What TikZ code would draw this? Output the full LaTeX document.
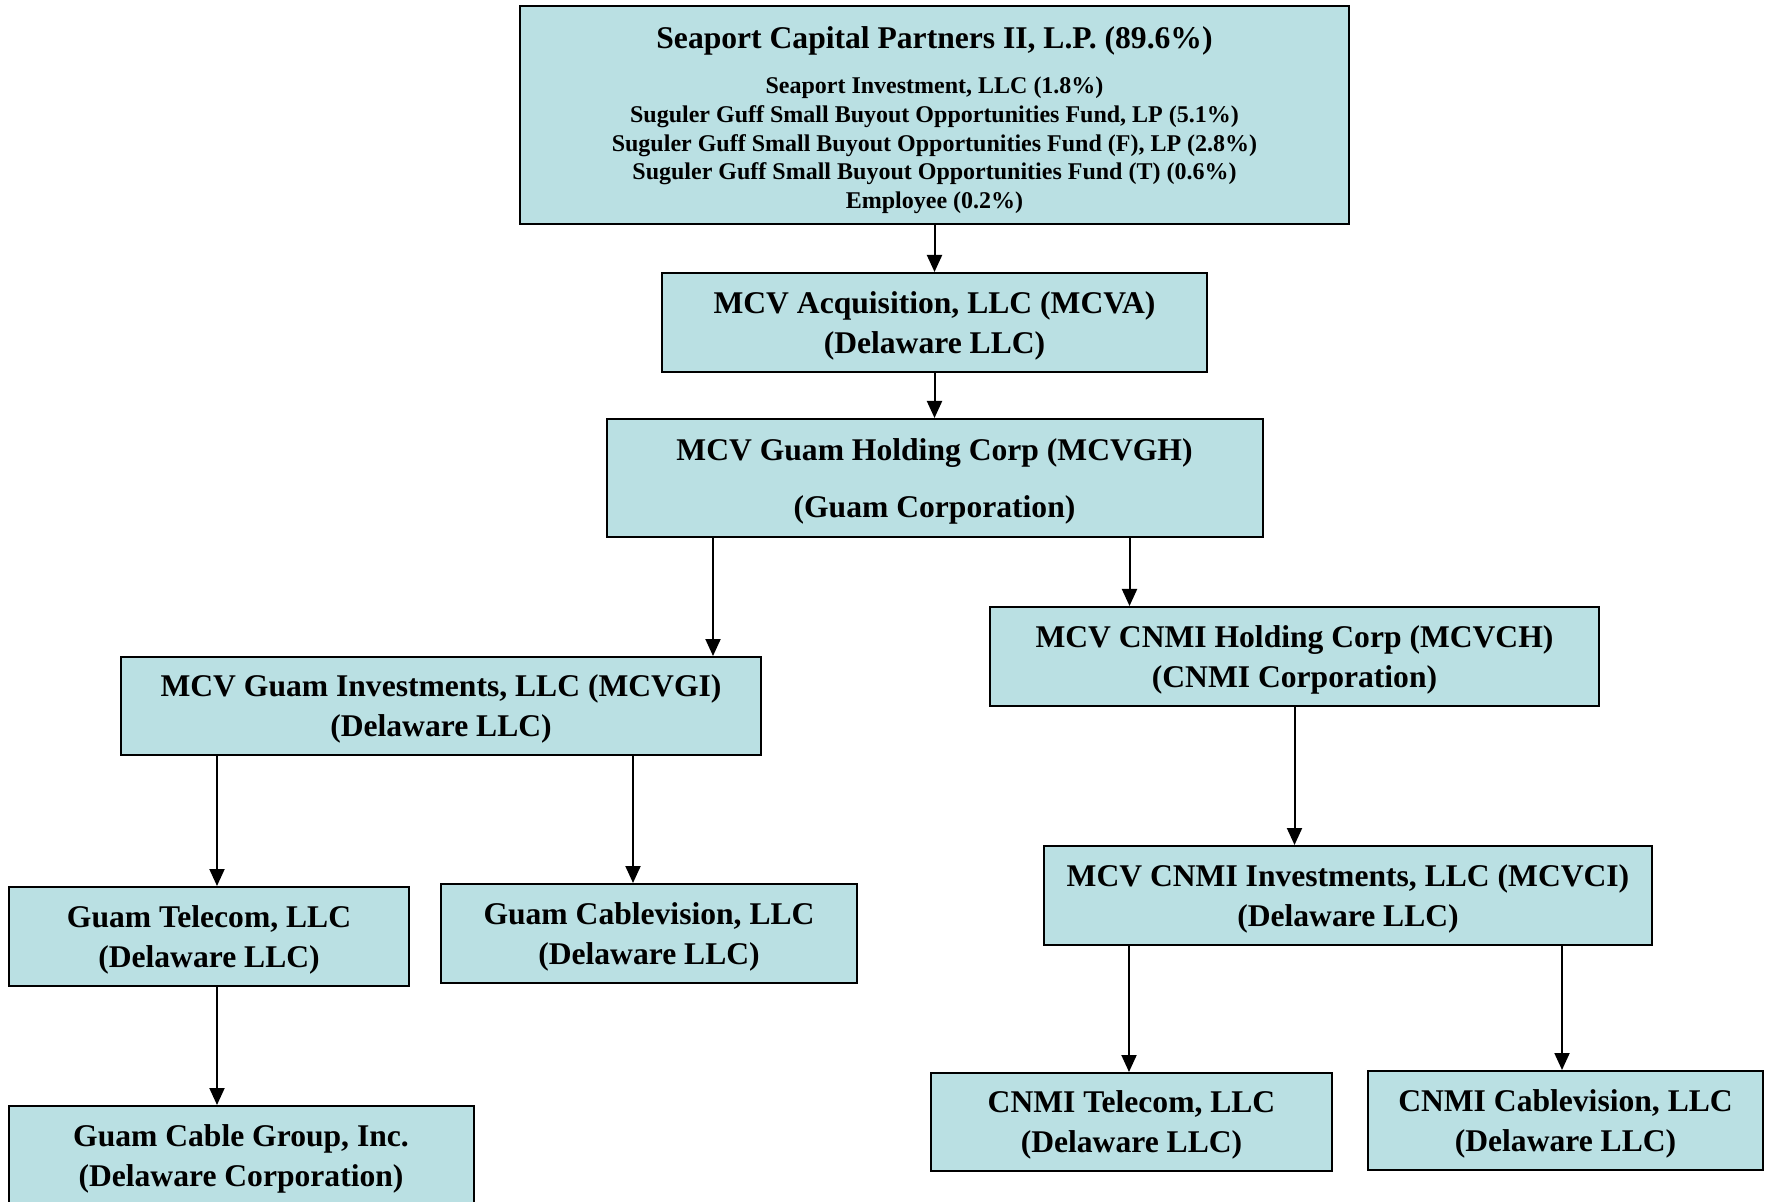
\documentclass[tikz,border=0pt]{standalone}
\usepackage{fontspec}
\setmainfont{Liberation Serif}
\usetikzlibrary{arrows.meta}
\definecolor{boxfill}{RGB}{186,224,227}
\newcommand{\dnstrut}{\rule{0pt}{14.2pt}}
\tikzset{
  entity/.style={draw=black, line width=1pt, fill=boxfill, inner sep=0pt, align=center,
    font=\bfseries\fontsize{15.8}{20}\selectfont},
  toptitle/.style={inner sep=0pt, font=\bfseries\fontsize{15.8}{20}\selectfont},
  topsub/.style={inner sep=0pt, align=center, font=\bfseries\fontsize{12}{14.4}\selectfont},
  arr/.style={line width=1pt, -{Triangle[length=8.5pt,width=7.5pt]}}
}
\begin{document}
\begin{tikzpicture}[x=0.5pt,y=-0.5pt]
\clip (0,0) rectangle (1765,1202);
\fill[white] (0,0) rectangle (1765,1202);

% boxes
\node[entity, minimum width=414.5pt, minimum height=109pt] (top) at (934.5,115) {};
\node[toptitle] (toptext) at (934.5,40.5) {Seaport Capital Partners II, L.P. (89.6\%)};
\node[topsub] (topsubtext) at (934.5,145.3) {Seaport Investment, LLC (1.8\%)\\
Suguler Guff Small Buyout Opportunities Fund, LP (5.1\%)\\
Suguler Guff Small Buyout Opportunities Fund (F), LP (2.8\%)\\
Suguler Guff Small Buyout Opportunities Fund (T) (0.6\%)\\
Employee (0.2\%)};

\node[entity, minimum width=272.5pt, minimum height=49.5pt] (mcva) at (934.5,322.5)
  {\dnstrut MCV Acquisition, LLC (MCVA)\\(Delaware LLC)};
\node[entity, minimum width=328pt, minimum height=59pt] (gh) at (934.5,478)
  {\dnstrut MCV Guam Holding Corp (MCVGH)\\[8.5pt](Guam Corporation)};
\node[entity, minimum width=320pt, minimum height=49pt] (gi) at (441,706)
  {\dnstrut MCV Guam Investments, LLC (MCVGI)\\(Delaware LLC)};
\node[entity, minimum width=200pt, minimum height=49.5pt] (gt) at (209,936.5)
  {\dnstrut Guam Telecom, LLC\\(Delaware LLC)};
\node[entity, minimum width=208pt, minimum height=49.5pt] (gcv) at (649,933.5)
  {\dnstrut Guam Cablevision, LLC\\(Delaware LLC)};
\node[entity, minimum width=232.5pt, minimum height=49.5pt] (gcg) at (241,1155.5)
  {\dnstrut Guam Cable Group, Inc.\\(Delaware Corporation)};
\node[entity, minimum width=304.5pt, minimum height=49.5pt] (ch) at (1294.5,656.5)
  {\dnstrut MCV CNMI Holding Corp (MCVCH)\\(CNMI Corporation)};
\node[entity, minimum width=304pt, minimum height=49.5pt] (ci) at (1348,895.5)
  {\dnstrut MCV CNMI Investments, LLC (MCVCI)\\(Delaware LLC)};
\node[entity, minimum width=200.5pt, minimum height=49pt] (ct) at (1131.5,1122)
  {\dnstrut CNMI Telecom, LLC\\(Delaware LLC)};
\node[entity, minimum width=197.5pt, minimum height=49.5pt] (ccv) at (1565.5,1120.5)
  {\dnstrut CNMI Cablevision, LLC\\(Delaware LLC)};

% connector x positions
\coordinate (xa) at (713,0);
\coordinate (xb) at (1129.5,0);
\coordinate (xc) at (217,0);
\coordinate (xd) at (633,0);
\coordinate (xe) at (1294.5,0);
\coordinate (xf) at (1129,0);
\coordinate (xg) at (1562,0);

\draw[arr] (top.south) -- (mcva.north);
\draw[arr] (mcva.south) -- (gh.north);
\draw[arr] (gh.south -| xa) -- (gi.north -| xa);
\draw[arr] (gh.south -| xb) -- (ch.north -| xb);
\draw[arr] (gi.south -| xc) -- (gt.north -| xc);
\draw[arr] (gi.south -| xd) -- (gcv.north -| xd);
\draw[arr] (gt.south -| xc) -- (gcg.north -| xc);
\draw[arr] (ch.south -| xe) -- (ci.north -| xe);
\draw[arr] (ci.south -| xf) -- (ct.north -| xf);
\draw[arr] (ci.south -| xg) -- (ccv.north -| xg);
\end{tikzpicture}
\end{document}
